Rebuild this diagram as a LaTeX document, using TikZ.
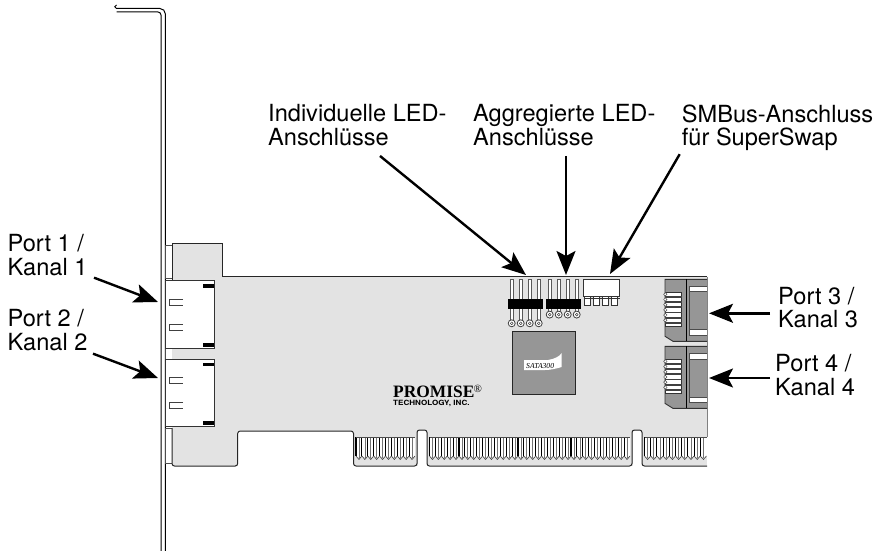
\documentclass[tikz,border=0pt]{standalone}
\usepackage{fontspec}
\setmainfont{TeX Gyre Heros}
\newfontfamily\promisefont{Liberation Serif}
\usetikzlibrary{arrows.meta}
\definecolor{board}{gray}{0.89}
\definecolor{chipgray}{gray}{0.59}
\definecolor{edgegray}{gray}{0.3}
\tikzset{
  x=1pt,y=-1pt,
  lab/.style={anchor=north west,align=left,inner sep=0pt,font=\fontsize{23.6}{23.6}\selectfont},
  callout/.style={line width=2.4pt,-{Stealth[length=24pt,width=19pt,inset=5pt]}},
  outline/.style={draw=black!85,line width=1pt},
  pinline/.style={draw=black!65,line width=0.7pt,fill=white},
  ring/.style={draw=black!75,line width=0.8pt,fill=white},
}
\newcommand{\headerpins}[3]{% x0, pin bottom, ring centre
  \foreach \d in {0,9,18,27}{
    \filldraw[pinline] (#1+\d-1.3,279) rectangle (#1+\d+1.3,#2);
    \filldraw[ring] (#1+\d,#3) circle (3.5);
    \draw[black!75,line width=0.5pt] (#1+\d,#3) circle (1.4);
  }
}
\newcommand{\satajack}[1]{% top
  \begin{scope}[shift={(0,#1)}]
    \filldraw[fill=chipgray,draw=black!80,line width=0.9pt] (707,0) -- (665,0) -- (665,57) -- (673,62) -- (707,62);
    \draw[black,line width=0.9pt] (686.3,0) -- (686.3,62);
    \filldraw[fill=white,draw=black!70,line width=0.7pt] (707,7) -- (689.5,7) -- (689.5,56) -- (707,56);
    \filldraw[fill=chipgray,draw=black!70,line width=0.7pt] (707,12.5) -- (689.5,12.5) -- (689.5,50.5) -- (707,50.5);
    \filldraw[fill=white,draw=black!80,line width=0.7pt] (665,12.8) rectangle (681.5,46.8);
    \foreach \k in {0,1,2,3,4,5}{
      \fill[black!75] (665,16.6+\k*5.2) rectangle (681.5,18.4+\k*5.2);
      \filldraw[fill=white,draw=black!70,line width=0.5pt] (665.3,15+\k*5.2) circle (1.7);
    }
  \end{scope}
}
\newcommand{\fingers}[3]{% from, to, count
  \pgfmathsetmacro{\pitch}{(#2-#1)/#3}
  \fill[white] (#1,437.5) rectangle (#2,457);
  \foreach \k in {1,...,#3}{
    \pgfmathsetmacro{\xa}{#1+(\k-1)*\pitch}
    \pgfmathsetmacro{\xb}{#1+\k*\pitch}
    \pgfmathsetmacro{\xm}{(\xa+\xb)/2}
    \fill[board] (\xa,460.5) -- (\xa,456) -- (\xm,459.5) -- (\xb,456) -- (\xb,460.5) -- cycle;
    \draw[black,line width=1.1pt] (\xa,437) -- (\xa,456);
    \draw[black!55,line width=0.7pt] (\xa+\pitch*0.5,437) -- (\xa+\pitch*0.5,458);
    \draw[black!75,line width=0.6pt] (\xa,456) -- (\xm,459.5) -- (\xb,456);
  }
  \draw[edgegray,line width=1pt] (#1,437) -- (#2,437);
}
\begin{document}
\begin{tikzpicture}
\useasboundingbox (0,0) rectangle (884,551);
% bracket
\draw[black,line width=1pt] (161,551) -- (161,15) arc[start angle=0,end angle=-90,radius=3] -- (116.5,12);
\draw[black,line width=1pt] (165.4,551) -- (165.4,14) arc[start angle=0,end angle=-90,radius=5.5] -- (116.5,8.5) arc[start angle=90,end angle=270,radius=1.75];
% bracket tabs
\foreach \a/\b in {245/278,348/359,428/463}{
  \filldraw[fill=white,draw=black!70,line width=0.8pt] (165.4,\a) rectangle (172,\b);
}
% board
\fill[board] (172,243) -- (222.7,243) -- (222.7,277) -- (707,277) -- (707,437) -- (353.5,437) -- (353.5,431) -- (237.7,431) -- (237.7,466) -- (172,466) -- cycle;
\fill[board] (353.5,437) rectangle (707,466);
\fill[white] (417.5,430.5) rectangle (426.5,470);
\fill[white] (632.5,430.5) rectangle (641.5,470);
\fingers{356}{415}{10}
\fingers{429.5}{630}{34}
\fingers{644.5}{706.5}{10}
\draw[outline] (172,348) -- (172,243) -- (222.7,243) -- (222.7,276.7) -- (707,276.7);
\draw[black!50,line width=0.6pt] (707,276.7) -- (707,437);
\draw[outline,rounded corners=2.5pt] (172,428) -- (172,466) -- (237.7,466) -- (237.7,431) -- (353.5,431) -- (353.5,466) -- (417,466) -- (417,430) -- (427,430) -- (427,466) -- (632,466) -- (632,430) -- (642,430) -- (642,466) -- (707,466);
% edge ports
\foreach \t/\ua/\ub in {280.7/18.3/43.5,359.3/17.9/43}{
  \filldraw[fill=white,draw=black!80,line width=0.9pt] (165.4,\t) rectangle (214,\t+67.5);
  \fill[black] (203,\t+3.2) rectangle (213.5,\t+7);
  \fill[black] (203,\t+62) rectangle (213.5,\t+65.8);
  \foreach \u in {\ua,\ub}{
    \draw[black!75,line width=0.9pt] (183,\t+\u) -- (169.6,\t+\u) -- (169.6,\t+\u+6.3) -- (183,\t+\u+6.3);
  }
}
% header pins
\headerpins{511.7}{320}{323.3}
\headerpins{549.7}{311}{314.6}
\fill[black] (508,299) rectangle (543,309);
\fill[black] (546,299) rectangle (581,309);
% SMBus header
\foreach \d in {0,9,18,27}{
  \filldraw[fill=white,draw=black!80,line width=0.9pt] (584.5+\d,296) rectangle (590.5+\d,305);
}
\filldraw[fill=white,draw=black!80,line width=1pt] (583.7,279) rectangle (619.5,296);
\draw[black!80,line width=0.6pt] (583.7,298.3) -- (619.5,298.3);
% chip
\filldraw[fill=chipgray,draw=black!85,line width=1pt] (512.3,331.7) rectangle (575.3,394.7);
\fill[white] (524,360) -- (548,360) .. controls (555,359) and (560,356) .. (561.7,353) -- (561.7,367) .. controls (555,369) and (550,370) .. (545,370) -- (524,370) -- cycle;
\node[inner sep=0pt,font=\promisefont\itshape\fontsize{7.6}{8}\selectfont,anchor=base west] (satalogo) at (526,368) {SATA300};
% logo
\node[inner sep=0pt,anchor=base west,font=\promisefont\bfseries\fontsize{17.4}{18}\selectfont] (promise) at (393,397.5) {PROMISE};
\node[inner sep=0pt,anchor=base west,font=\promisefont\fontsize{11}{12}\selectfont] (reg) at (473.5,392) {®};
\node[inner sep=0pt,anchor=base west,xscale=1.12,font=\bfseries\fontsize{7.2}{8}\selectfont] (tech) at (393,405.6) {TECHNOLOGY, INC.};
% right jacks
\satajack{279.3}
\satajack{346.4}
% labels
\node[lab] (l1) at (268,104.4) {Individuelle LED-\\Anschlüsse};
\node[lab] (l2) at (473,104.4) {Aggregierte LED-\\Anschlüsse};
\node[lab] (l3) at (681.7,104.4) {SMBus-Anschluss\\für SuperSwap};
\node[lab] (p1) at (7.5,234.4) {Port 1 /\\Kanal 1};
\node[lab] (p2) at (7.5,309.4) {Port 2 /\\Kanal 2};
\node[lab] (p3) at (778,286.7) {Port 3 /\\Kanal 3};
\node[lab] (p4) at (775,354.4) {Port 4 /\\Kanal 4};
% connector ends
\coordinate (t1) at (526,275);
\coordinate (t2) at (566,275);
\coordinate (t3) at (610,274);
\coordinate (tp1) at (158,302);
\coordinate (tp2) at (158,378);
\coordinate (tp3) at (709,313.3);
\coordinate (tp4) at (709,378);
\draw[callout] ([xshift=112pt,yshift=-10pt]l1.south west) -- (t1);
\draw[callout] ([xshift=93pt,yshift=-10pt]l2.south west) -- (t2);
\draw[callout] ([xshift=-2pt,yshift=-3pt]l3.south west) -- (t3);
\draw[callout] ([xshift=86.5pt,yshift=-1.7pt]p1.south west) -- (tp1);
\draw[callout] ([xshift=85.5pt,yshift=-2.7pt]p2.south west) -- (tp2);
\draw[callout] (p3.west |- tp3) ++(-8,0) -- (tp3);
\draw[callout] (p4.west |- tp4) ++(-5,0) -- (tp4);
\end{tikzpicture}
\end{document}
